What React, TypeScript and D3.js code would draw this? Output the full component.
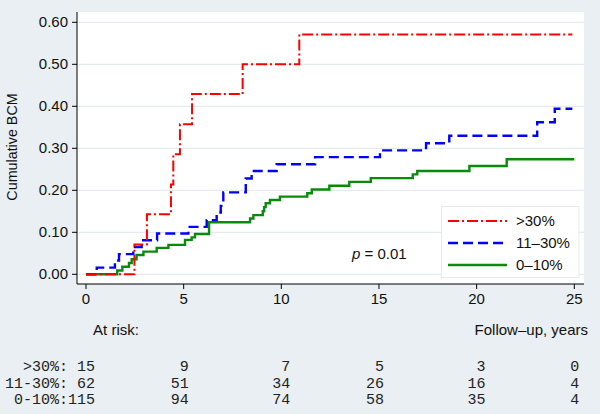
import React from "react";
import * as d3 from "d3";

// ---- data ----
const redTimes = [0, 2.48, 3.12, 4.35, 4.47, 4.81, 5.43, 8.02, 10.92, 24.9];
const redVals = [0, 0.071, 0.143, 0.214, 0.286, 0.357, 0.429, 0.5, 0.571, 0.571];

const blueTimes = [0, 0.55, 1.48, 1.69, 2.42, 2.85, 3.64, 5.24, 6.18, 6.69, 6.9, 7.03, 8.18, 8.48, 9.76, 11.73, 15.05, 17.41, 18.6, 23.1, 24.0, 24.9];
const blueVals = [0, 0.016, 0.033, 0.048, 0.065, 0.081, 0.097, 0.113, 0.129, 0.147, 0.163, 0.195, 0.228, 0.246, 0.262, 0.279, 0.295, 0.312, 0.33, 0.362, 0.394, 0.394];

const greenTimes = [0, 1.6, 1.86, 2.2, 2.34, 2.59, 2.94, 3.62, 4.22, 5.07, 5.41, 5.58, 6.3, 8.4, 8.57, 9.05, 9.12, 9.2, 9.42, 9.93, 11.33, 11.56, 12.46, 13.48, 14.58, 16.73, 16.96, 19.63, 21.54, 25.0];
const greenVals = [0, 0.009, 0.018, 0.027, 0.036, 0.046, 0.054, 0.063, 0.07, 0.082, 0.088, 0.096, 0.124, 0.133, 0.141, 0.15, 0.16, 0.169, 0.177, 0.185, 0.193, 0.202, 0.211, 0.22, 0.229, 0.238, 0.246, 0.258, 0.274, 0.274];

const yTicks = [0, 0.1, 0.2, 0.3, 0.4, 0.5, 0.6];
const xTicks = [0, 5, 10, 15, 20, 25];

const seriesNames = [">30%", "11–30%", "0–10%"];
const riskLabels = [">30%:", "11-30%:", "0-10%:"];
const riskRed = [15, 9, 7, 5, 3, 0];
const riskBlue = [62, 51, 34, 26, 16, 4];
const riskGreen = [115, 94, 74, 58, 35, 4];

const W = 600;
const H = 414;

export default function App() {
  const x = d3.scaleLinear().domain([0, 25]).range([86, 574.3]);
  const y = d3.scaleLinear().domain([0, 0.6]).range([274.3, 22.3]);
  const plotLeft = 77;
  const plotRight = 584;
  const plotTop = 12;
  const plotBottom = 284;

  const line = d3
    .line<[number, number]>()
    .x((d) => x(d[0]))
    .y((d) => y(d[1]))
    .curve(d3.curveStepAfter);

  const mk = (t: number[], v: number[]) => t.map((tt, i) => [tt, v[i]] as [number, number]);

  const series = [
    { name: seriesNames[0], data: mk(redTimes, redVals), color: "#ff0000", dash: "11,3,2,3", width: 2 },
    { name: seriesNames[1], data: mk(blueTimes, blueVals), color: "#0000ff", dash: "10,5", width: 2.4 },
    { name: seriesNames[2], data: mk(greenTimes, greenVals), color: "#0a8a0a", dash: "", width: 2.4 },
  ];

  const font = "'Liberation Sans', Arial, Helvetica, sans-serif";
  const mono = "'Liberation Mono', 'Courier New', monospace";
  const fs = 15;
  const riskRows = [riskRed, riskBlue, riskGreen];
  const rowY = [371, 388, 404];

  return (
    <svg width={W} height={H} style={{ position: "absolute", left: 0, top: 0, display: "block" }}>
      <rect x={0} y={0} width={W} height={H} fill="#e9eff2" />
      <rect x={plotLeft} y={plotTop} width={plotRight - plotLeft} height={plotBottom - plotTop} fill="#ffffff" />
      {yTicks.map((t) => (
        <line key={"g" + t} x1={plotLeft} x2={plotRight} y1={y(t)} y2={y(t)} stroke="#e3ebee" strokeWidth={1.2} />
      ))}
      {/* axes */}
      <line x1={plotLeft} x2={plotLeft} y1={plotTop} y2={plotBottom} stroke="#000" strokeWidth={1} />
      <line x1={plotLeft} x2={plotRight} y1={plotBottom} y2={plotBottom} stroke="#000" strokeWidth={1} />
      {yTicks.map((t) => (
        <g key={"yt" + t}>
          <line x1={plotLeft - 5} x2={plotLeft} y1={y(t)} y2={y(t)} stroke="#000" />
          <text x={plotLeft - 9} y={y(t) + 5} textAnchor="end" fontFamily={font} fontSize={fs} fill="#111">
            {t.toFixed(2)}
          </text>
        </g>
      ))}
      {xTicks.map((t) => (
        <g key={"xt" + t}>
          <line x1={x(t)} x2={x(t)} y1={plotBottom} y2={plotBottom + 5} stroke="#000" />
          <text x={x(t)} y={plotBottom + 20} textAnchor="middle" fontFamily={font} fontSize={fs} fill="#111">
            {t}
          </text>
        </g>
      ))}
      <text transform="translate(16.5,147) rotate(-90)" textAnchor="middle" fontFamily={font} fontSize={14.3} fill="#111">
        Cumulative BCM
      </text>
      {/* curves (drawn green, blue, red so red sits on top) */}
      {series
        .slice()
        .reverse()
        .map((s) => (
          <path
            key={s.name}
            d={line(s.data) || ""}
            fill="none"
            stroke={s.color}
            strokeWidth={s.width}
            strokeDasharray={s.dash || undefined}
          />
        ))}
      {/* p value */}
      <text x={352} y={259} fontFamily={font} fontSize={fs} fill="#111">
        <tspan fontStyle="italic">p</tspan> = 0.01
      </text>
      {/* legend */}
      <rect x={441.5} y={206.5} width={137.5} height={71} fill="#fff" stroke="#e3ebee" strokeWidth={1} />
      {series.map((s, i) => (
        <g key={"lg" + i}>
          <line
            x1={448}
            x2={507}
            y1={221 + i * 22}
            y2={221 + i * 22}
            stroke={s.color}
            strokeWidth={s.width}
            strokeDasharray={s.dash || undefined}
          />
          <text x={516} y={226 + i * 22} fontFamily={font} fontSize={fs} fill="#111">
            {s.name}
          </text>
        </g>
      ))}
      {/* at risk table */}
      <text x={116} y={335} textAnchor="middle" fontFamily={font} fontSize={fs} fill="#111">
        At risk:
      </text>
      <text x={588} y={335} textAnchor="end" fontFamily={font} fontSize={fs} fill="#111">
        Follow–up, years
      </text>
      {riskRows.map((row, ri) => (
        <g key={"rr" + ri}>
          {row.map((v, ci) => (
            <text
              key={ci}
              x={x(xTicks[ci]) + (ci % 2 === 0 ? 9 : 5)}
              y={rowY[ri]}
              textAnchor="end"
              fontFamily={mono}
              fontSize={15}
              fill="#222"
              xmlSpace="preserve"
            >
              {ci === 0 ? riskLabels[ri] + (v < 100 ? " " : "") + v : String(v)}
            </text>
          ))}
        </g>
      ))}
    </svg>
  );
}
